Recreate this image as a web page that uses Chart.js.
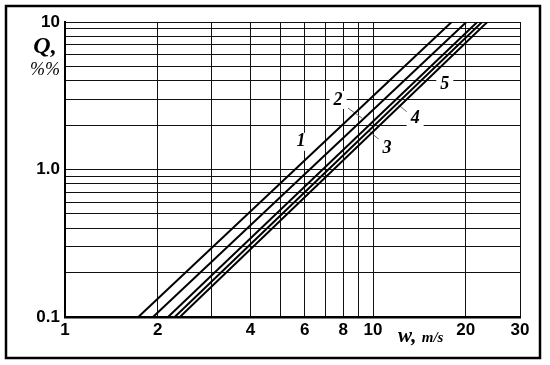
<!DOCTYPE html>
<html lang="en">
<head>
<meta charset="UTF-8">
<script src="https://cdn.jsdelivr.net/npm/chart.js"></script>
<title>Q vs w</title>
<style>
  body { margin: 0; background: #fff; }
  canvas { display: block; }
</style>
</head>
<body>
<canvas id="grafico" width="550" height="365"></canvas>

<script>
// Q (%) nas pontas de cada reta
const qEnds = [0.1, 10];

// w (m/s) onde cada reta corta Q = 0.1 e Q = 10
const w1 = [1.73, 18.0];
const w2 = [1.93, 20.1];
const w3 = [2.16, 21.8];
const w4 = [2.27, 22.6];
const w5 = [2.36, 23.5];

// ticks
const xTicks = [1, 2, 3, 4, 5, 6, 7, 8, 9, 10, 20, 30];
const xTickLabels = [1, 2, 4, 6, 8, 10, 20, 30];
const yTicks = [0.1, 0.2, 0.3, 0.4, 0.5, 0.6, 0.7, 0.8, 0.9, 1, 2, 3, 4, 5, 6, 7, 8, 9, 10];
const yTickValues = [0.1, 1, 10];
const yTickLabels = ['0.1', '1.0', '10'];

// numeros das curvas
const curveNames = ['1', '2', '3', '4', '5'];
const curveNameW = [5.84, 7.70, 11.1, 13.7, 17.1];
const curveNameQ = [1.54, 2.96, 1.40, 2.23, 3.80];

// tracinhos que ligam numero e curva
const leader2W = [8.29, 9.21];
const leader2Q = [2.61, 2.23];
const leader3W = [9.63, 10.6];
const leader3Q = [1.85, 1.56];
const leader4W = [12.1, 13.0];
const leader4Q = [2.74, 2.42];

function pontos(ws, qs) {
  return ws.map((w, i) => ({ x: w, y: qs[i] }));
}

function reta(ws) {
  return {
    data: pontos(ws, qEnds),
    borderColor: '#000',
    borderWidth: 2,
    pointRadius: 0,
    tension: 0,
  };
}

function tracinho(ws, qs) {
  return {
    data: pontos(ws, qs),
    borderColor: '#666',
    borderWidth: 1,
    pointRadius: 0,
  };
}

const extras = {
  id: 'extras',
  beforeDraw(chart) {
    const ctx = chart.ctx;
    ctx.save();
    ctx.fillStyle = '#fff';
    ctx.fillRect(0, 0, chart.width, chart.height);
    ctx.restore();
  },
  afterDraw(chart) {
    const ctx = chart.ctx;
    const sx = chart.scales.x;
    const sy = chart.scales.y;
    ctx.save();

    // moldura externa
    ctx.strokeStyle = '#000';
    ctx.lineWidth = 2.5;
    ctx.strokeRect(6, 6, 534, 352);

    // numeros das curvas, com fundo branco
    ctx.font = 'bold italic 18px "Liberation Serif"';
    ctx.textAlign = 'center';
    ctx.textBaseline = 'middle';
    for (let i = 0; i < curveNames.length; i++) {
      const px = sx.getPixelForValue(curveNameW[i]);
      const py = sy.getPixelForValue(curveNameQ[i]);
      const tw = ctx.measureText(curveNames[i]).width;
      ctx.fillStyle = '#fff';
      ctx.fillRect(px - tw / 2 - 4, py - 9, tw + 8, 18);
      ctx.fillStyle = '#000';
      ctx.fillText(curveNames[i], px, py);
    }

    // titulo do eixo y
    ctx.textAlign = 'center';
    ctx.textBaseline = 'alphabetic';
    ctx.font = 'bold italic 24px "Liberation Serif"';
    ctx.fillText('Q,', 45, 53);
    ctx.font = 'italic 18px "Liberation Serif"';
    ctx.fillText('%%', 45, 75);

    // titulo do eixo x
    ctx.textAlign = 'left';
    ctx.font = 'bold italic 21px "Liberation Serif"';
    ctx.fillText('w,', 398, 342);
    const ww = ctx.measureText('w, ').width;
    ctx.font = 'bold italic 15px "Liberation Serif"';
    ctx.fillText('m/s', 398 + ww, 342);

    ctx.restore();
  }
};

const config = {
  type: 'line',
  data: {
    datasets: [
      reta(w1), reta(w2), reta(w3), reta(w4), reta(w5),
      tracinho(leader2W, leader2Q),
      tracinho(leader3W, leader3Q),
      tracinho(leader4W, leader4Q),
    ]
  },
  options: {
    responsive: false,
    animation: false,
    layout: { padding: { left: 0, top: 22, right: 30, bottom: 0 } },
    plugins: {
      legend: { display: false },
      tooltip: { enabled: false },
    },
    scales: {
      x: {
        type: 'logarithmic',
        min: 1,
        max: 30,
        afterBuildTicks(scale) {
          scale.ticks = xTicks.map(v => ({ value: v }));
        },
        afterFit(scale) { scale.height = 48; },
        border: { color: '#000', width: 2.5 },
        grid: { color: '#111', lineWidth: 1, drawTicks: false },
        ticks: {
          autoSkip: false,
          maxRotation: 0,
          padding: 3,
          color: '#000',
          font: { family: 'Liberation Sans', weight: 'bold', size: 17 },
          callback: v => xTickLabels.includes(v) ? String(v) : '',
        },
      },
      y: {
        type: 'logarithmic',
        min: 0.1,
        max: 10,
        afterBuildTicks(scale) {
          scale.ticks = yTicks.map(v => ({ value: v }));
        },
        afterFit(scale) { scale.width = 65; },
        border: { color: '#000', width: 2 },
        grid: { color: '#111', lineWidth: 1, drawTicks: false },
        ticks: {
          autoSkip: false,
          padding: 5,
          color: '#000',
          font: { family: 'Liberation Sans', weight: 'bold', size: 17 },
          callback: v => {
            const i = yTickValues.findIndex(t => Math.abs(t - v) < 1e-9);
            return i >= 0 ? yTickLabels[i] : '';
          },
        },
      },
    },
  },
  plugins: [extras],
};

const grafico = new Chart(document.getElementById('grafico'), config);
</script>
</body>
</html>
